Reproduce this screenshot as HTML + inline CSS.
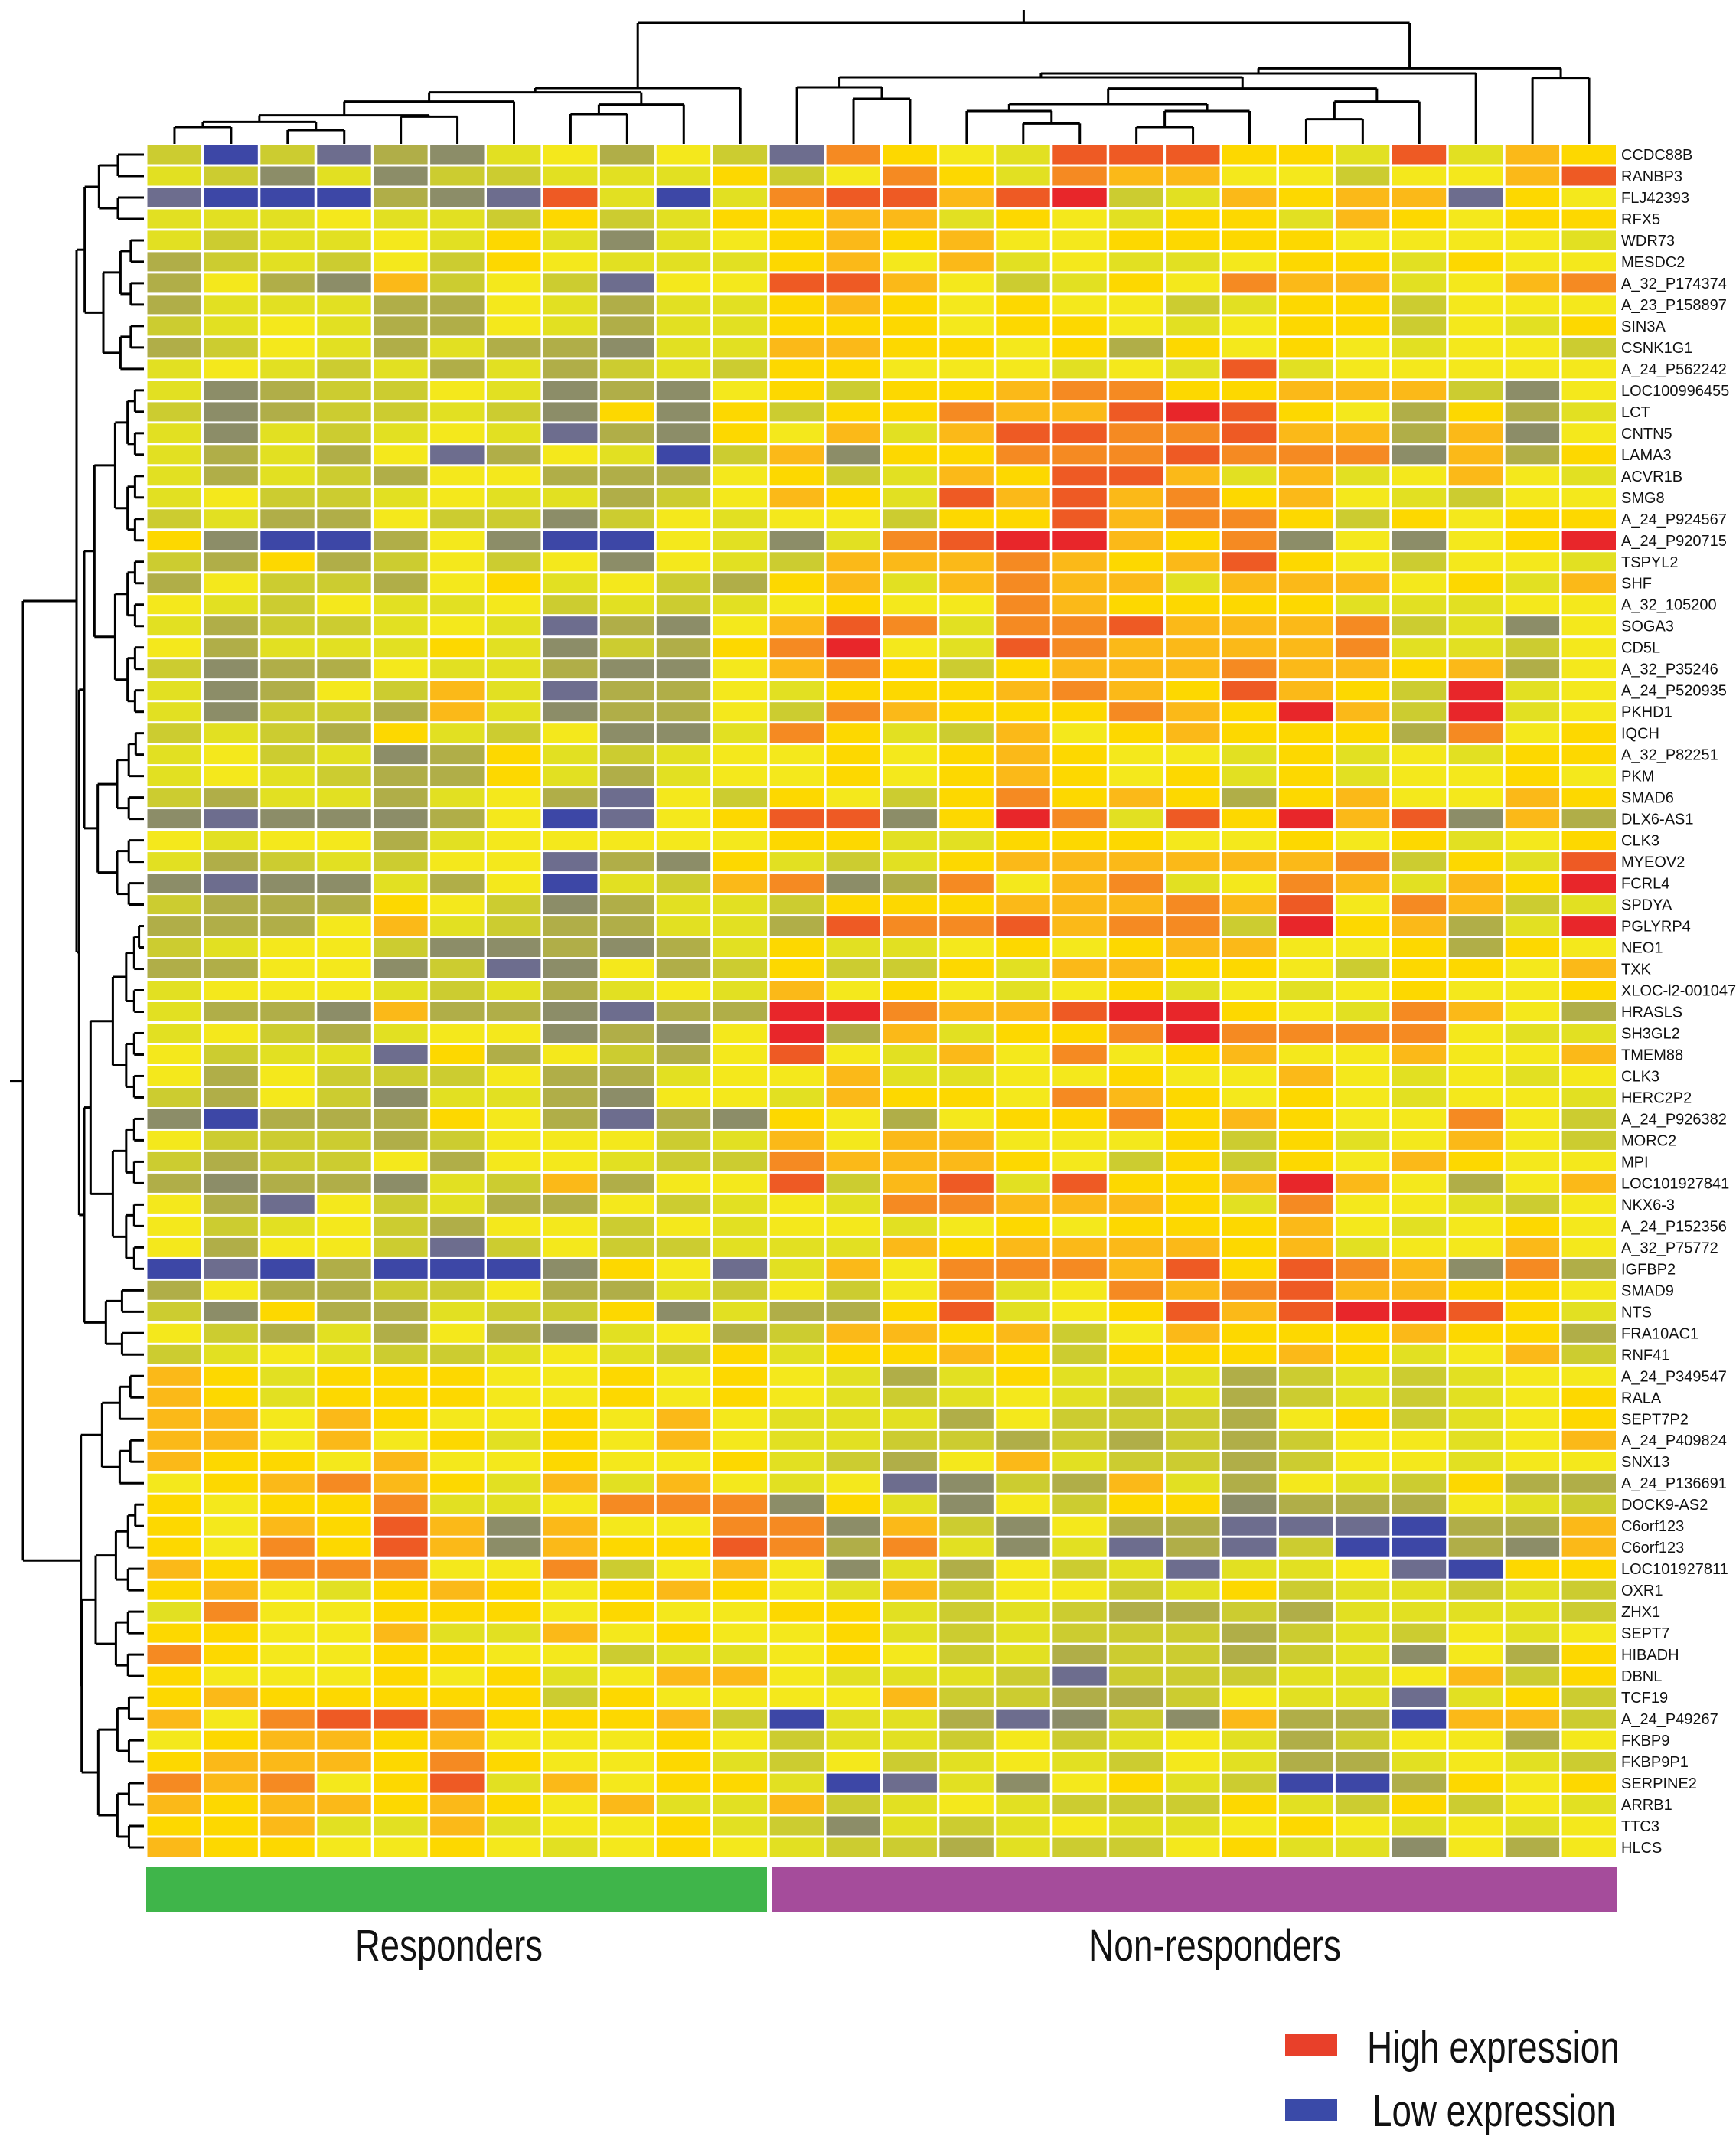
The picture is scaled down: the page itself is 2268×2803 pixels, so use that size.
<!DOCTYPE html>
<html><head><meta charset="utf-8">
<style>
html,body{margin:0;padding:0;background:#fff;}
svg{display:block;}
</style></head>
<body>
<svg id="chart" width="2268" height="2803" viewBox="0 0 2268 2803" xmlns="http://www.w3.org/2000/svg">
<g id="cells"></g>
<g id="topdend" stroke="#000" stroke-width="3" fill="none"></g>
<g id="leftdend" stroke="#000" stroke-width="3" fill="none"></g>
<g id="labels" font-family="Liberation Sans, Arial, sans-serif" font-size="20" fill="#111"></g>
<rect x="191" y="2438" width="811" height="60" fill="#3fb54a"/>
<rect x="1009" y="2438" width="1104" height="60" fill="#a54c9b"/>
<text x="464" y="2561" font-family="Liberation Sans, Arial, sans-serif" font-size="58" textLength="245" lengthAdjust="spacingAndGlyphs" fill="#111">Responders</text>
<text x="1422" y="2561" font-family="Liberation Sans, Arial, sans-serif" font-size="58" textLength="330" lengthAdjust="spacingAndGlyphs" fill="#111">Non-responders</text>
<rect x="1679" y="2657" width="68" height="29" fill="#e8402a"/>
<text x="1786" y="2694" font-family="Liberation Sans, Arial, sans-serif" font-size="58" textLength="330" lengthAdjust="spacingAndGlyphs" fill="#111">High expression</text>
<rect x="1679" y="2741" width="68" height="29" fill="#3a4aa8"/>
<text x="1793" y="2777" font-family="Liberation Sans, Arial, sans-serif" font-size="58" textLength="318" lengthAdjust="spacingAndGlyphs" fill="#111">Low expression</text>
</svg>
<script>
const genes = ["CCDC88B","RANBP3","FLJ42393","RFX5","WDR73","MESDC2","A_32_P174374","A_23_P158897","SIN3A","CSNK1G1","A_24_P562242","LOC100996455","LCT","CNTN5","LAMA3","ACVR1B","SMG8","A_24_P924567","A_24_P920715","TSPYL2","SHF","A_32_105200","SOGA3","CD5L","A_32_P35246","A_24_P520935","PKHD1","IQCH","A_32_P82251","PKM","SMAD6","DLX6-AS1","CLK3","MYEOV2","FCRL4","SPDYA","PGLYRP4","NEO1","TXK","XLOC-l2-001047","HRASLS","SH3GL2","TMEM88","CLK3","HERC2P2","A_24_P926382","MORC2","MPI","LOC101927841","NKX6-3","A_24_P152356","A_32_P75772","IGFBP2","SMAD9","NTS","FRA10AC1","RNF41","A_24_P349547","RALA","SEPT7P2","A_24_P409824","SNX13","A_24_P136691","DOCK9-AS2","C6orf123","C6orf123","LOC101927811","OXR1","ZHX1","SEPT7","HIBADH","DBNL","TCF19","A_24_P49267","FKBP9","FKBP9P1","SERPINE2","ARRB1","TTC3","HLCS"];
const responderCount = 11;
const nonResponderCount = 15;
// expression level codes per cell (11 responders + 15 non-responders)
const levelCodes = ["B","S","G","O","L","Y","y","g","a","o","R","r"];
const levelValues = [-3,-2.3,-1.7,-1.1,-0.6,-0.2,0.2,0.6,1.1,1.6,2.2,2.8];
const expression = [
"LBLSOGYyOyLSogyYRRRggYRYag","YLGYGLLYYYgLyogYoaayyLyyaR","SBBBOGSRYBYoRRaRrLYagaaSgy","YYYyYYLgLYggaaYgyYggYagygg",
"YLYYyYgYGYygagayyggggyyyyY","OLYLyLgyYYYgayaYyYYyggYgyy","OyOGaLyLSyyRRayLYgyoaaYyao","OYYYOOyYOYYgagygyyLYggLyyy",
"LYyYOOyYOYYgggyggyYyggLyYg","OLyYOYOOGYYaaggygOgygyYyyL","YyYLYOYOLYLggyyyYyYRYyyyyy","YGOLLyYGOGygLggaooggaaaLGy",
"LGOLLYLGgGgLggoaaRrRgyOgOY","YGYLYyYSOGgyaYaRRooRaaOaGy","YOYOySOyYBLaGggoooRoooGaOg","YOYLOyyOOOygLYagRRaYaYyayY",
"YyLLYyYYOLyagYRaRaogayYLyy","LYOOyLLGLyYyyLggRaoogLgygg","gGBBOyGBByYGYoRrragoGyGygr","LOgOLyLyGyYLaaaoagaRgyLyyY",
"OyLLOygYyLOgaYaoaaYaaaygYa","yYLyYYyLYLYygyyoaggggYYYyy","YOLLYyYSOGyaRoYooRaaaoLYGy","yOYYYgYGLOgoryYRoaaaaoYYLy",
"LGOOyYYOGGyaogLgaaaoaagaOy","YGOyLaYSOOyYgggaoagRagLrYy","YGLLOaYGOOyLoagggoagraLrYy","LYLOgYLyGGYogYLaygagggOoyg",
"YyLYGOgYLYyygygagyyYgYyYgg","YyYLOOgYOYyygygagygYgYyygy","LOYYOYyOSyLgyLgogagOgayyag","GSGGGOyBSygRRGgroYRgraRGaO",
"yYyyOYyyyyyggYYgggyygygYyg","YOLYLyySOGgYLYgaaaaaaoLgYR","GSGGYOyBYLaoGOoyaoYyoaYagr","LOOOgyLGOYYLgggaaaoaRyoaLY",
"OOOyaYLOOYYORooRaooLrgaOYr","LYyyLGGOGOYgYYygygaayygOgy","OOyyGLSGyOLgLLgYaaggyLggya","YyyyYLYOYyYaygyYygYyYygyyg",
"YOOGaOOGSOOrroaaRrrgyYoayO","YyLOYyyGOGyrOaYggorooooyYY","yLYYSgOyLOyRyYayoygayyayya","yOyLLLyOOYyyaYYyygyyayYyYy",
"LOyLGYYOGyyYaggyoagygyYyyY","GBOOOgyOSOGgyOyggogagyyoyL","yLLLOLyyyLYayaayyygLgYyayL","LOLLyOyyYLLoaaagyLgLgyagyy",
"OGOOGYLaOyyRLaRYRggarayOya","yOSyLYOOyLYyYooaaagYoyyYLy","yLYyLOyyLyYyyYygygggayYygy","yOyyLSLyLLYYYagaaaagaYyyay",
"BSBOBBBGgySYayoooaRgRoaGoO","OyOOLLyOOYLyLyoYyoaoRaaggy","LGgOOYLLgGYOOgRYygRaRrrRgY","yLOYOyOGYyOLaagaLyagggaggO",
"LYyYLLYyYLgYggagLgggagYyaL","agYgggyygygyYOYgYYYOLYLYyy","agYgggyygygyYLYyYLYOLYLYyg","aayagyygyayYYYOyLLLOygLYyg",
"aayaygYgyayYYLLOLOLOLyyYya","aggyayygyygYLOyaYLLOLyyYyy","ygaoagYaYayYySGLOaYOyYLgOO","gyggoYYyoooGgYGyLggGOOOyYL",
"gyagRaGayyooGaLGyOOSSSBOOa","gyogRaGaggRoOoYGYSOSLBBOGa","agoooyyoLyayGYOyLYSYYySBgg","gayYgagygagyYaLyyLYgLYYLYL",
"YoyygggygyyggYLYLOOLOYYYYL","ggyyaYYaygyygYLYLLLOLYLyYy","ogyyggyyLYYygyLYOLLOLYGyOg","gyyygygYyaayYYYLSLLLYYyaLg",
"gagggggLgyyyyaLLOOLyYYSYgL","ayoRRogggaLBYYOSGLGaOOBaaL","ygaagayyygyLYYLyLYyYOLyyOy","gaaagogyygYLyLYyYLyYOOYyYL",
"oaoygRYayggYBSYGygYLBBOgyg","agaagagyaYYaLYyYLLLgYLgLyY","ggaYYaYyygYLGYLYyYYygyYyYy","aggyygyYygyYLLOYLLygYYGyOy"
];
const colorStops = [[-3,[61,71,166]],[-2.3,[109,109,142]],[-1.7,[140,141,104]],[-1.1,[176,174,72]],[-0.6,[204,204,48]],[-0.2,[226,224,34]],[0.2,[244,232,28]],[0.6,[253,216,0]],[1.1,[251,185,24]],[1.6,[245,138,34]],[2.2,[238,90,36]],[2.8,[232,38,42]]];
const colTree = {h:90,c:[
 {h:345,c:[{h:362,c:[{h:398,c:[{h:452,c:[{h:478,c:[{h:498,c:[0,1]},{h:510,c:[2,3]}]},{h:457,c:[4,5]}]},6]},{h:410,c:[{h:447,c:[7,8]},9]}]},10]},
 {h:268,c:[{h:288,c:[{h:303,c:[{h:342,c:[11,{h:387,c:[12,13]}]},{h:347,c:[{h:408,c:[{h:435,c:[14,{h:484,c:[15,16]}]},{h:435,c:[{h:498,c:[17,18]},19]}]},{h:398,c:[{h:467,c:[20,21]},22]}]}]},23]},{h:305,c:[24,25]}]}
]};
// row tree: groups with dendrogram x (in zoom units, /3 => px)
const rowTree = {x:90,c:[
 {x:300,c:[{x:332,c:[{x:388,r:[0,3]},{x:405,r:[4,10]}]},{x:310,c:[{x:330,c:[{x:370,r:[11,26]},{x:383,r:[27,35]}]},{x:330,c:[{x:355,r:[36,52]},{x:415,r:[53,56]}]}]}]},
 {x:317,c:[{x:400,r:[57,62]},{x:320,c:[{x:375,r:[63,71]},{x:385,r:[72,79]}]}]}
]};

const NS="http://www.w3.org/2000/svg";
const X0=191, X1=2113, Y0=188, Y1=2427;
const nCols=responderCount+nonResponderCount, nRows=genes.length;
const cw=(X1-X0)/nCols, rh=(Y1-Y0)/nRows;
function xScale(c){return X0+c*cw;}
function yScale(r){return Y0+r*rh;}
function colorFor(v){
 if(v<=colorStops[0][0]) return "rgb("+colorStops[0][1].join(",")+")";
 for(let i=1;i<colorStops.length;i++){
  if(v<=colorStops[i][0]){const a=colorStops[i-1],b=colorStops[i];const t=(v-a[0])/(b[0]-a[0]);
   return "rgb("+a[1].map((x,k)=>Math.round(x+(b[1][k]-x)*t)).join(",")+")";}
 }
 return "rgb("+colorStops[colorStops.length-1][1].join(",")+")";
}
const cells=document.getElementById("cells");
for(let r=0;r<nRows;r++){
 const row=expression[r]||"";
 for(let c=0;c<nCols;c++){
  const code=row[c]||"y";
  const v=levelValues[levelCodes.indexOf(code)];
  const rect=document.createElementNS(NS,"rect");
  rect.setAttribute("x",(xScale(c)+1.5).toFixed(1));
  rect.setAttribute("y",(yScale(r)+1.5).toFixed(1));
  rect.setAttribute("width",(cw-3.5).toFixed(1));
  rect.setAttribute("height",(rh-3).toFixed(1));
  rect.setAttribute("fill",colorFor(v));
  
  
  cells.appendChild(rect);
 }
}
const labels=document.getElementById("labels");
genes.forEach((g,i)=>{
 const t=document.createElementNS(NS,"text");
 t.setAttribute("x",2118);
 t.setAttribute("y",(yScale(i)+rh/2+7).toFixed(1));
 t.textContent=g;
 
 
 labels.appendChild(t);
});
function line(g,x1,y1,x2,y2){
 const l=document.createElementNS(NS,"line");
 l.setAttribute("x1",x1);l.setAttribute("y1",y1);l.setAttribute("x2",x2);l.setAttribute("y2",y2);
 
 
 g.appendChild(l);
}
const td=document.getElementById("topdend");
function drawCol(n){
 if(typeof n==="number") return {x:xScale(n)+cw/2,y:Y0};
 const a=drawCol(n.c[0]), b=drawCol(n.c[1]); const y=n.h/3;
 line(td,a.x,y,b.x,y); line(td,a.x,y,a.x,a.y); line(td,b.x,y,b.x,b.y);
 return {x:(a.x+b.x)/2,y:y};
}
const rootTop=drawCol(colTree); line(td,rootTop.x,13,rootTop.x,rootTop.y);
const ld=document.getElementById("leftdend");
function autoRange(lo,hi,x){
 if(lo===hi) return {x:X0-3,y:yScale(lo)+rh/2};
 const mid=Math.floor((lo+hi)/2);
 const cx=x+(X0-x)*0.4;
 const a=autoRange(lo,mid,cx), b=autoRange(mid+1,hi,cx);
 line(ld,x,a.y,x,b.y); line(ld,x,a.y,a.x,a.y); line(ld,x,b.y,b.x,b.y);
 return {x:x,y:(a.y+b.y)/2};
}
function drawRow(n){
 const x=n.x/3;
 if(n.r) return autoRange(n.r[0],n.r[1],x);
 const a=drawRow(n.c[0]), b=drawRow(n.c[1]);
 line(ld,x,a.y,x,b.y); line(ld,x,a.y,a.x,a.y); line(ld,x,b.y,b.x,b.y);
 return {x:x,y:(a.y+b.y)/2};
}
const rootLeft=drawRow(rowTree); line(ld,13,rootLeft.y,rootLeft.x,rootLeft.y);
</script>
</body></html>
